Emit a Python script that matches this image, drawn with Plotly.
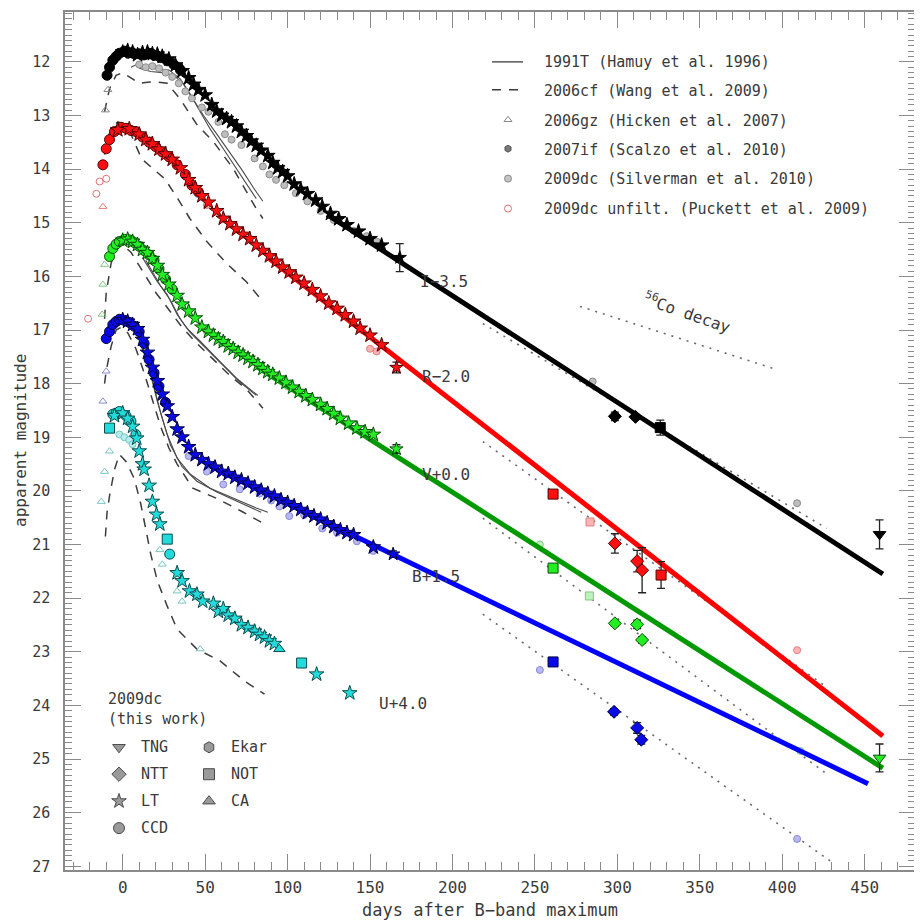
import plotly.graph_objects as go

# ---------------- SN 2009dc (this work) : plotted magnitudes (offsets applied) ----------------
I_ccd_day = [-9.5, -8, -6, -4, -2, 1, 4, 7, 10, 13, 16, 19, 23, 27, 31, 35]
I_ccd_mag = [12.25, 12.1, 11.97, 11.9, 11.84, 11.8, 11.83, 11.85, 11.85, 11.87, 11.84, 11.88, 11.92, 11.98, 12.05, 12.15]
I_lt_day = [0, 3, 6, 9, 12, 15, 18, 21, 24, 28, 32, 36, 40, 43, 46, 50, 54, 57, 60, 63, 66, 69, 72, 75, 78, 81, 84,
            88, 91, 94, 97, 100, 104, 108, 112, 117, 121, 126, 131, 136, 143, 150, 157]
I_lt_mag = [11.82, 11.79, 11.82, 11.87, 11.83, 11.82, 11.85, 11.86, 11.9, 11.95, 12.06, 12.17, 12.3, 12.42, 12.52, 12.62,
            12.8, 12.92, 13.0, 13.06, 13.12, 13.2, 13.3, 13.38, 13.48, 13.56, 13.65, 13.75, 13.88, 13.98, 14.05, 14.13,
            14.28, 14.38, 14.46, 14.58, 14.7, 14.83, 14.93, 15.04, 15.16, 15.3, 15.42]
I_late_day = [168, 298.5, 311, 326, 459]
I_late_mag = [15.65, 18.61, 18.62, 18.82, 20.81]
I_late_inst = ["LT", "NTT", "NTT", "NOT", "TNG"]
I_late_err = [0.26, 0.08, 0.05, 0.14, 0.27]

R_ccd_day = [-12, -10, -8, -5, -1, 2, 5, 8, 12, 16, 20, 24, 28, 33, 38, 42, 46]
R_ccd_mag = [13.92, 13.62, 13.45, 13.3, 13.22, 13.24, 13.28, 13.3, 13.4, 13.5, 13.58, 13.68, 13.77, 13.92, 14.1, 14.3, 14.43]
R_lt_day = [-3, 4, 10, 14, 18, 22, 26, 30, 35, 40, 44, 48, 52, 57, 61, 65, 69, 73, 77, 81, 85, 89, 93, 97, 101, 105,
            110, 115, 120, 125, 130, 135, 140, 144, 150, 157]
R_lt_mag = [13.27, 13.25, 13.35, 13.45, 13.53, 13.63, 13.72, 13.82, 13.98, 14.2, 14.35, 14.5, 14.62, 14.78, 14.92, 15.02,
            15.12, 15.22, 15.3, 15.42, 15.52, 15.62, 15.72, 15.83, 15.92, 16.02, 16.13, 16.25, 16.37, 16.5, 16.6, 16.72,
            16.84, 16.97, 17.1, 17.28]
R_late_day = [166, 261, 298.5, 312, 315, 326.5]
R_late_mag = [17.7, 20.06, 20.98, 21.31, 21.48, 21.57]
R_late_inst = ["LT", "NOT", "NTT", "NTT", "NTT", "NOT"]
R_late_err = [0.1, 0.04, 0.18, 0.2, 0.42, 0.25]

V_ccd_day = [-8, -6, -4, -2, 1, 4, 7, 10, 13, 16, 19, 22, 26, 30]
V_ccd_mag = [15.63, 15.48, 15.4, 15.35, 15.31, 15.32, 15.37, 15.44, 15.52, 15.6, 15.7, 15.86, 16.05, 16.24]
V_lt_day = [0, 3, 6, 9, 12, 15, 18, 21, 24, 28, 33, 36, 40, 44, 48, 52, 55, 58, 61, 64, 67, 70, 73, 76, 79, 82, 85, 88,
            91, 95, 99, 103, 107, 111, 115, 120, 124, 128, 132, 137, 142, 147, 152]
V_lt_mag = [15.33, 15.31, 15.35, 15.41, 15.5, 15.56, 15.67, 15.8, 15.97, 16.15, 16.36, 16.52, 16.65, 16.78, 16.95, 17.03,
            17.1, 17.17, 17.22, 17.3, 17.35, 17.42, 17.47, 17.53, 17.59, 17.65, 17.72, 17.78, 17.83, 17.9, 17.98, 18.07,
            18.15, 18.23, 18.3, 18.39, 18.47, 18.56, 18.65, 18.74, 18.83, 18.9, 18.95]
V_late_day = [166, 261, 298.5, 312, 315, 459]
V_late_mag = [19.22, 21.44, 22.47, 22.49, 22.78, 24.98]
V_late_inst = ["LT", "NOT", "NTT", "NTT", "NTT", "TNG"]
V_late_err = [0.08, 0.04, 0.05, 0.08, 0.06, 0.26]

B_ccd_day = [-10, -8, -6, -4, -2, 1, 4, 7, 10, 13, 16, 19, 22, 26]
B_ccd_mag = [17.16, 17.03, 16.9, 16.84, 16.8, 16.82, 16.86, 16.93, 17.03, 17.25, 17.55, 17.8, 18.05, 18.35]
B_lt_day = [0, 3, 6, 9, 12, 15, 18, 21, 24, 27, 30, 33, 36, 40, 44, 48, 52, 56, 60, 64, 68, 72, 76, 80, 84, 88, 92, 96,
            100, 104, 108, 112, 116, 120, 124, 128, 132, 136, 140, 152]
B_lt_mag = [16.81, 16.84, 16.9, 16.98, 17.18, 17.42, 17.7, 17.95, 18.2, 18.42, 18.62, 18.85, 19.0, 19.18, 19.33, 19.42,
            19.5, 19.56, 19.64, 19.68, 19.75, 19.8, 19.86, 19.93, 19.99, 20.05, 20.1, 20.17, 20.22, 20.28, 20.35, 20.41,
            20.47, 20.53, 20.6, 20.67, 20.73, 20.78, 20.82, 21.05]
B_late_day = [164, 261, 298, 312, 314.5]
B_late_mag = [21.18, 23.19, 24.12, 24.42, 24.64]
B_late_inst = ["LT", "NOT", "NTT", "NTT", "NTT"]
B_late_err = [0.06, 0.05, 0.06, 0.1, 0.08]

U_ccd_day = [-6, -4, -2, 2, 5, 8, 28.5]
U_ccd_mag = [18.57, 18.55, 18.52, 18.6, 18.7, 18.95, 21.18]
U_lt_day = [-5, 0, 3, 6, 8.5, 10, 12, 13, 16, 18, 20.5, 22.5, 33, 36, 40.5, 45, 48.5, 55, 58, 61, 64, 68, 72, 76, 80,
            83, 86, 89, 92, 117.6, 137.7]
U_lt_mag = [18.6, 18.55, 18.65, 18.8, 19.02, 19.26, 19.5, 19.6, 19.9, 20.2, 20.44, 20.62, 21.53, 21.68, 21.87, 21.93,
            22.06, 22.1, 22.25, 22.2, 22.32, 22.38, 22.5, 22.55, 22.62, 22.68, 22.73, 22.8, 22.85, 23.42, 23.77]
U_late_day = [-8, 27, 95, 108.5]
U_late_mag = [18.83, 20.9, 22.95, 23.21]
U_late_inst = ["NOT", "NOT", "CA", "NOT"]
U_late_err = [0, 0, 0, 0]

# ---------------- linear late-time fits (thick lines) ----------------
I_fit_day, I_fit_mag = [124, 461], [14.85, 21.55]
R_fit_day, R_fit_mag = [89, 461], [15.67, 24.57]
V_fit_day, V_fit_mag = [81, 461], [17.68, 25.17]
B_fit_day, B_fit_mag = [57, 452], [19.6, 25.46]

# ---------------- dotted extrapolations and 56Co decay ----------------
Co_day, Co_mag = [277.3, 396.8], [16.56, 17.74]
I_dot_day, I_dot_mag = [218.4, 427], [16.88, 20.7]
R_dot_day, R_dot_mag = [218.4, 426], [19.08, 23.64]
V_dot_day, V_dot_mag = [218.4, 427], [20.51, 25.28]
B_dot_day, B_dot_mag = [218.4, 429], [22.3, 26.9]

# ---------------- 2006cf (Wang et al. 2009), dashed ----------------
I_cf_day = [-11, -8, -4, 0, 5, 10, 15, 20, 27, 35, 45, 55, 67, 81, 85]
I_cf_mag = [12.93, 12.5, 12.25, 12.2, 12.3, 12.4, 12.38, 12.37, 12.4, 12.7, 13.17, 13.49, 13.99, 14.74, 14.92]
R_cf_day = [-11, -9, -6, -3, 0, 5, 11.5, 25.5, 33.4, 40.7, 51, 63, 75, 85]
R_cf_mag = [13.73, 13.4, 13.2, 13.12, 13.15, 13.35, 13.81, 14.18, 14.55, 14.92, 15.35, 15.76, 16.1, 16.47]
V_cf_day = [-11, -10, -7, -3, 0, 5, 10, 15, 20, 25, 30, 36, 45, 55, 65, 75, 85]
V_cf_mag = [16.79, 16.3, 15.75, 15.45, 15.42, 15.55, 15.8, 16.05, 16.3, 16.5, 16.7, 16.95, 17.25, 17.55, 17.85, 18.1, 18.46]
B_cf_day = [-11, -10, -7, -4, -1, 3, 8, 13, 18, 23, 28, 33, 42.5, 57, 72, 86]
B_cf_mag = [18.0, 17.76, 17.3, 17.0, 16.95, 17.05, 17.35, 17.8, 18.3, 18.8, 19.2, 19.5, 19.95, 20.14, 20.38, 20.62]
U_cf_day = [-10.5, -9.5, -8, -5, -2, 2, 7, 11, 17, 21, 27, 33, 45, 59, 74, 86]
U_cf_mag = [20.85, 20.4, 20.1, 19.6, 19.32, 19.45, 19.77, 20.25, 21.18, 21.68, 22.15, 22.58, 22.95, 23.17, 23.55, 23.79]

# ---------------- 1991T (Hamuy et al. 1996), solid ----------------
I_91a_day = [5, 9, 15, 21, 28, 35, 41, 47, 53, 61, 69, 77, 81]
I_91a_mag = [12.1, 12.04, 12.1, 12.13, 12.15, 12.32, 12.61, 12.93, 13.25, 13.62, 13.99, 14.37, 14.55]
I_91b_day = [10, 17, 24, 31, 37, 43, 49, 56, 64, 72, 80, 85]
I_91b_mag = [12.12, 12.18, 12.2, 12.25, 12.42, 12.7, 13.0, 13.3, 13.65, 14.0, 14.38, 14.6]
V_91a_day = [12, 16, 21, 27, 33, 39, 47, 59, 69, 79, 82]
V_91a_mag = [15.65, 15.85, 16.1, 16.34, 16.71, 16.97, 17.21, 17.59, 17.9, 18.15, 18.22]
V_91b_day = [14, 18, 23, 29, 35, 41, 49, 61, 71, 81]
V_91b_mag = [15.7, 15.92, 16.18, 16.45, 16.8, 17.05, 17.3, 17.66, 17.97, 18.22]
B_91a_day = [10, 15, 21, 27, 33, 41, 53, 67, 81, 88]
B_91a_mag = [17.2, 17.6, 18.33, 18.95, 19.39, 19.69, 19.95, 20.14, 20.32, 20.4]
B_91b_day = [12, 17, 23, 29, 36, 45, 57, 70, 84]
B_91b_mag = [17.3, 17.8, 18.55, 19.15, 19.55, 19.82, 20.02, 20.2, 20.4]

# ---------------- comparison points (2006gz triangles, 2007if / Silverman circles, Puckett) ----------------
I_gz_day, I_gz_mag = [-9, -10.5], [12.52, 12.9]
I_sil_day = [10, 14, 18, 22, 26, 30, 34, 38, 42, 48, 52, 58, 62, 66, 72, 80, 85, 89, 93, 98, 105, 112, 120, 128, 140,
             148, 154, 285, 409]
I_sil_mag = [12.05, 12.1, 12.08, 12.12, 12.2, 12.28, 12.4, 12.55, 12.68, 12.85, 12.93, 13.12, 13.35, 13.45, 13.55,
             13.8, 13.95, 14.1, 14.2, 14.3, 14.45, 14.6, 14.78, 14.95, 15.15, 15.25, 15.35, 17.96, 20.23]
R_gz_day, R_gz_mag = [-12], [14.7]
R_puck_day, R_puck_mag = [-21, -16, -14, -10], [16.79, 14.46, 14.23, 14.18]
R_sil_day, R_sil_mag = [51, 145, 150, 154, 409], [14.67, 17.0, 17.35, 17.4, 22.97]
R_sq_day, R_sq_mag = [283.4], [20.58]
V_gz_day, V_gz_mag = [-11, -12, -12.5], [15.78, 16.15, 16.71]
V_sil_day = [51, 60, 75, 100, 121, 126, 132, 253, 411]
V_sil_mag = [17.03, 17.25, 17.5, 18.05, 18.45, 18.5, 18.62, 21.0, 24.85]
V_sq_day, V_sq_mag = [283], [21.96]
B_gz_day, B_gz_mag = [-10, -12], [17.77, 18.33]
B_sil_day = [40, 51, 61, 71, 83, 90, 95, 101, 110, 121, 130, 142, 152, 253, 409]
B_sil_mag = [19.35, 19.64, 19.88, 19.97, 20.05, 20.18, 20.29, 20.47, 20.45, 20.7, 20.78, 20.94, 21.12, 23.34, 26.49]
U_gz_day = [-8, -11, -13, 22.5, 24, 33, 36, 47]
U_gz_mag = [19.26, 19.64, 20.2, 21.1, 21.37, 21.87, 22.06, 22.95]
U_sil_day, U_sil_mag = [-2, 1, 4, 6], [18.95, 19.0, 19.05, 19.13]

# ---------------- text ----------------
band_labels = ["I−3.5", "R−2.0", "V+0.0", "B+1.5", "U+4.0"]
band_label_day = [179, 180, 180, 174, 154]
band_label_mag = [16.1, 17.87, 19.69, 21.59, 23.97]
legend_top = ["1991T (Hamuy et al. 1996)", "2006cf (Wang et al. 2009)", "2006gz (Hicken et al. 2007)",
              "2007if (Scalzo et al. 2010)", "2009dc (Silverman et al. 2010)", "2009dc unfilt. (Puckett et al. 2009)"]
legend_inst_left = ["TNG", "NTT", "LT", "CCD"]
legend_inst_right = ["Ekar", "NOT", "CA"]

# ---------------- styling / layout ----------------
FONT = "DejaVu Sans Mono"
TXT = "#3a3a3a"
AX = "#8a8a8a"
XR = [-35, 480.5]
YR = [27.07, 11.07]
PL, PT, PW, PH = 65, 10, 850, 860      # plot area in page pixels


def px2x(px):
    return XR[0] + (px - PL) / PW * (XR[1] - XR[0])


def py2y(py):
    return YR[1] + (py - PT) / PH * (YR[0] - YR[1])


SYM = {"LT": "star", "CCD": "circle", "NTT": "diamond", "NOT": "square", "TNG": "triangle-down",
       "Ekar": "hexagon", "CA": "triangle-up"}
band_fill = {"I": "#000000", "R": "#ff1010", "V": "#22ee22", "B": "#0a0ae6", "U": "#22dcdc"}
band_edge = {"I": "#000000", "R": "#500000", "V": "#0a4a0a", "B": "#000040", "U": "#0a4a4a"}
band_light = {"I": "#bdbdbd", "R": "#ffb4b4", "V": "#bff0bf", "B": "#b8b8f4", "U": "#b4eeee"}
band_light_edge = {"I": "#8c8c8c", "R": "#e08080", "V": "#80c880", "B": "#8888d4", "U": "#78c4c4"}
fit_color = {"I": "#000000", "R": "#ff0000", "V": "#009a00", "B": "#0000ff"}

fig = go.Figure()


def line(x, y, color, width, dash="solid"):
    fig.add_trace(go.Scatter(x=x, y=y, mode="lines", line=dict(color=color, width=width, dash=dash),
                             hoverinfo="skip"))


def pts(x, y, symbol, fill, edge, size, ew=1.0, err=None):
    kw = {}
    if err is not None:
        kw["error_y"] = dict(type="data", array=err, visible=True, color="#222222", thickness=1.3, width=4)
    fig.add_trace(go.Scatter(x=x, y=y, mode="markers",
                             marker=dict(symbol=symbol, color=fill, size=size, line=dict(color=edge, width=ew)),
                             hoverinfo="skip", **kw))


# comparison curves
for d, m in [(I_cf_day, I_cf_mag), (R_cf_day, R_cf_mag), (V_cf_day, V_cf_mag), (B_cf_day, B_cf_mag),
             (U_cf_day, U_cf_mag)]:
    line(d, m, "#3c3c3c", 1.5, "9px,8px")
for d, m in [(I_91a_day, I_91a_mag), (I_91b_day, I_91b_mag), (V_91a_day, V_91a_mag), (V_91b_day, V_91b_mag),
             (B_91a_day, B_91a_mag), (B_91b_day, B_91b_mag)]:
    line(d, m, "#4a4a4a", 1.1)
for d, m in [(Co_day, Co_mag), (I_dot_day, I_dot_mag), (R_dot_day, R_dot_mag), (V_dot_day, V_dot_mag),
             (B_dot_day, B_dot_mag)]:
    line(d, m, "#6a6a6a", 1.6, "2px,6px")

# comparison points
for b, gd, gm, sd, sm in [("I", I_gz_day, I_gz_mag, I_sil_day, I_sil_mag), ("R", R_gz_day, R_gz_mag, R_sil_day, R_sil_mag),
                          ("V", V_gz_day, V_gz_mag, V_sil_day, V_sil_mag), ("B", B_gz_day, B_gz_mag, B_sil_day, B_sil_mag),
                          ("U", U_gz_day, U_gz_mag, U_sil_day, U_sil_mag)]:
    pts(sd, sm, "circle", band_light[b], band_light_edge[b], 7, 1)
    pts(gd, gm, "triangle-up-open", band_light_edge[b], band_light_edge[b], 7, 1)
pts(R_puck_day, R_puck_mag, "circle-open", "#e07070", "#e07070", 7, 1)
pts(R_sq_day, R_sq_mag, "square", band_light["R"], band_light_edge["R"], 8, 1)
pts(V_sq_day, V_sq_mag, "square", band_light["V"], band_light_edge["V"], 8, 1)

# fits
for b, d, m in [("I", I_fit_day, I_fit_mag), ("R", R_fit_day, R_fit_mag), ("V", V_fit_day, V_fit_mag),
                ("B", B_fit_day, B_fit_mag)]:
    line(d, m, fit_color[b], 5)

# 2009dc (this work)
bands = [("I", I_ccd_day, I_ccd_mag, I_lt_day, I_lt_mag, I_late_day, I_late_mag, I_late_inst, I_late_err),
         ("R", R_ccd_day, R_ccd_mag, R_lt_day, R_lt_mag, R_late_day, R_late_mag, R_late_inst, R_late_err),
         ("V", V_ccd_day, V_ccd_mag, V_lt_day, V_lt_mag, V_late_day, V_late_mag, V_late_inst, V_late_err),
         ("B", B_ccd_day, B_ccd_mag, B_lt_day, B_lt_mag, B_late_day, B_late_mag, B_late_inst, B_late_err),
         ("U", U_ccd_day, U_ccd_mag, U_lt_day, U_lt_mag, U_late_day, U_late_mag, U_late_inst, U_late_err)]
for b, cd, cm, ld, lm, xd, xm, xi, xe in bands:
    pts(cd, cm, "circle", band_fill[b], band_edge[b], 10, 1)
    pts(ld, lm, "star", band_fill[b], band_edge[b], 11, 1)
    for inst in SYM:
        sel = [k for k, v in enumerate(xi) if v == inst]
        if sel:
            pts([xd[k] for k in sel], [xm[k] for k in sel], SYM[inst], band_fill[b], band_edge[b],
                10 if inst != "TNG" else 11, 1, [xe[k] for k in sel])

# band labels
for t, d, m in zip(band_labels, band_label_day, band_label_mag):
    fig.add_annotation(x=d, y=m, text=t, showarrow=False, xanchor="left", yanchor="middle",
                       font=dict(family=FONT, size=16, color=TXT))
fig.add_annotation(x=px2x(687), y=py2y(311), text="<sup>56</sup>Co decay", showarrow=False, textangle=19,
                   font=dict(family=FONT, size=16, color=TXT))

# ---------------- legends ----------------
line([px2x(492), px2x(523)], [py2y(60), py2y(60)], "#3c3c3c", 1.3)
line([px2x(492), px2x(523)], [py2y(88), py2y(88)], "#3c3c3c", 1.5, "9px,8px")
fig.add_trace(go.Scatter(x=[px2x(508)] * 4, y=[py2y(v) for v in (118, 147, 177, 207)], mode="markers",
                         marker=dict(symbol=["triangle-up-open", "hexagon", "circle", "circle-open"],
                                     color=["#8a8a8a", "#7a7a7a", "#c4c4c4", "#e07070"], size=7,
                                     line=dict(color=["#8a8a8a", "#555555", "#8a8a8a", "#e07070"], width=1)),
                         hoverinfo="skip"))
for i, t in enumerate(legend_top):
    fig.add_annotation(x=px2x(542), y=py2y(60 + 29.4 * i), text=t, showarrow=False, xanchor="left",
                       yanchor="middle", font=dict(family=FONT, size=15, color=TXT))

for t, yy in [("2009dc", 699), ("(this work)", 719)]:
    fig.add_annotation(x=px2x(106), y=py2y(yy), text=t, showarrow=False, xanchor="left",
                       yanchor="middle", font=dict(family=FONT, size=15, color=TXT))
left_y = [747, 774, 801, 828]
right_y = [747, 774, 801]
fig.add_trace(go.Scatter(x=[px2x(119)] * 4 + [px2x(209)] * 3, y=[py2y(v) for v in left_y + right_y],
                         mode="markers",
                         marker=dict(symbol=[SYM[k] for k in legend_inst_left + legend_inst_right],
                                     color="#9a9a9a", size=11, line=dict(color="#4a4a4a", width=1)),
                         hoverinfo="skip"))
for t, yy in zip(legend_inst_left, left_y):
    fig.add_annotation(x=px2x(139), y=py2y(yy), text=t, showarrow=False, xanchor="left", yanchor="middle",
                       font=dict(family=FONT, size=15, color=TXT))
for t, yy in zip(legend_inst_right, right_y):
    fig.add_annotation(x=px2x(229), y=py2y(yy), text=t, showarrow=False, xanchor="left", yanchor="middle",
                       font=dict(family=FONT, size=15, color=TXT))

# axis titles (paper coordinates)
fig.add_annotation(x=0.5, y=-40 / PH, xref="paper", yref="paper", text="days after B−band maximum",
                   showarrow=False, yanchor="middle", font=dict(family=FONT, size=17, color=TXT))
fig.add_annotation(x=-45 / PW, y=0.5, xref="paper", yref="paper", text="apparent magnitude", showarrow=False,
                   textangle=-90, xanchor="center", yanchor="middle", font=dict(family=FONT, size=16, color=TXT))

# page body has an 8px default margin -> shift figure accordingly
fig.update_layout(
    width=914, height=914, margin=dict(l=PL - 8, r=922 - PL - PW, t=PT - 8, b=914 + 8 - PT - PH),
    paper_bgcolor="white", plot_bgcolor="white", showlegend=False,
    xaxis=dict(range=XR, tickmode="linear", tick0=0, dtick=50, ticks="inside", ticklen=16, tickwidth=1,
               tickcolor=AX, showline=True, linecolor=AX, linewidth=1.5, mirror="allticks", showgrid=False,
               zeroline=False, tickfont=dict(family=FONT, size=16, color=TXT), ticklabelstandoff=2,
               minor=dict(ticks="inside", ticklen=8, tickmode="linear", tick0=0, dtick=10, tickcolor=AX,
                          showgrid=False)),
    yaxis=dict(range=YR, tickmode="linear", tick0=12, dtick=1, ticks="inside", ticklen=16, tickwidth=1,
               tickcolor=AX, showline=True, linecolor=AX, linewidth=1.5, mirror="allticks", showgrid=False,
               zeroline=False, tickfont=dict(family=FONT, size=15, color=TXT), ticklabelstandoff=10,
               minor=dict(ticks="inside", ticklen=7, tickmode="linear", tick0=12, dtick=0.1, tickcolor=AX,
                          showgrid=False)),
)

fig.write_html("out.html")
